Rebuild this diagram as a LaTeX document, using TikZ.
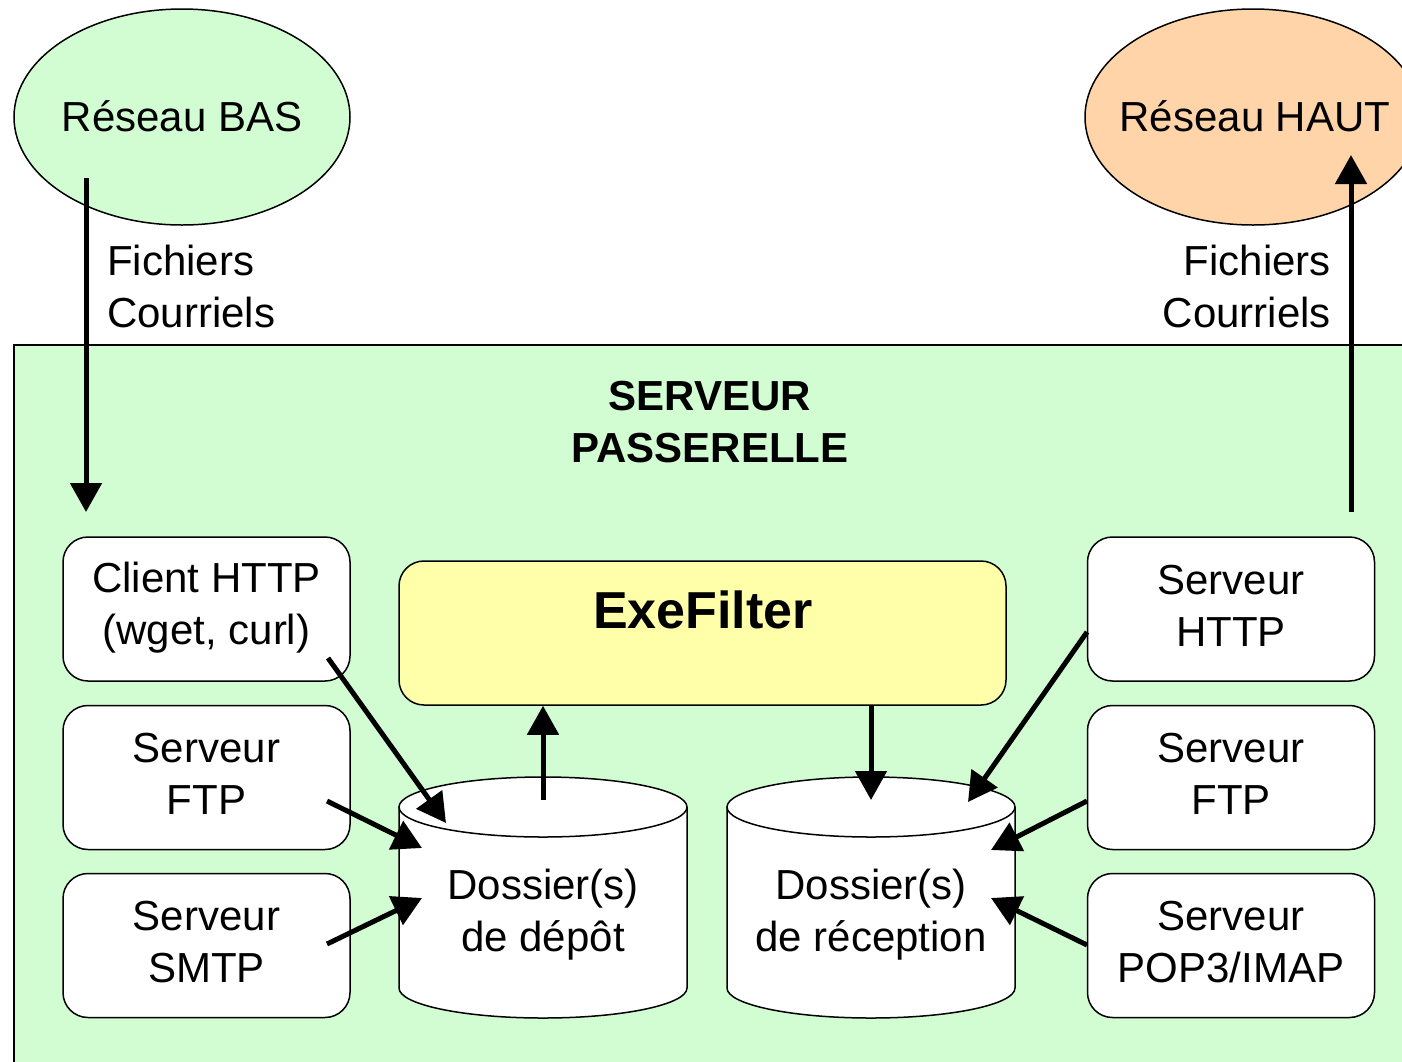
\documentclass[tikz,border=0pt]{standalone}
\usepackage{fontspec}
\setmainfont{Liberation Sans}
\usetikzlibrary{arrows.meta}
\definecolor{lgreen}{RGB}{210,252,210}
\definecolor{peach}{RGB}{255,212,168}
\definecolor{lyellow}{RGB}{255,255,170}
\begin{document}
\begin{tikzpicture}[x=1pt,y=-1pt,
  txt/.style={font=\fontsize{42}{52}\selectfont, align=center, inner sep=0pt},
  btxt/.style={font=\fontsize{42}{52}\selectfont\bfseries, align=center, inner sep=0pt},
  outline/.style={draw=black, line width=1.5pt},
  box/.style={outline, fill=white, rounded corners=25pt, minimum width=287pt, minimum height=144pt, inner sep=0pt},
  arr/.style={line width=5pt, -{Triangle[length=29pt,width=31pt]}}
]
\useasboundingbox (0,0) rectangle (1402,1061);
\fill[white] (0,0) rectangle (1402,1061);

% networks
\draw[outline, fill=lgreen] (182,117) ellipse [x radius=168, y radius=108];
\draw[outline, fill=peach] (1253,117) ellipse [x radius=168, y radius=108];
\node[txt] (bas) at (182,116) {Réseau BAS};
\node[txt] (haut) at (1255,116) {Réseau HAUT};

% server area
\draw[outline, fill=lgreen] (14,345) rectangle (1430,1090);
\node[btxt] (srv) at (710,422) {SERVEUR\\PASSERELLE};

\node[txt, anchor=west, align=left] (fl) at (107,286) {Fichiers\\Courriels};
\node[txt, anchor=east, align=right] (fr) at (1331,286) {Fichiers\\Courriels};

% left boxes
\node[box] (chttp) at (206.5,609) {};
\node[txt] at ([yshift=1pt]chttp.center) {Client HTTP\\(wget, curl)};
\node[box] (lftp) at (206.5,777.5) {};
\node[txt] at ([yshift=4pt]lftp.center) {Serveur\\FTP};
\node[box] (smtp) at (206.5,945.5) {};
\node[txt] at ([yshift=3pt]smtp.center) {Serveur\\SMTP};

% right boxes
\node[box] (shttp) at (1231,609) {};
\node[txt] at ([yshift=3pt]shttp.center) {Serveur\\HTTP};
\node[box] (rftp) at (1231,777.5) {};
\node[txt] at ([yshift=4pt]rftp.center) {Serveur\\FTP};
\node[box] (pop) at (1231,945.5) {};
\node[txt] at ([yshift=3pt]pop.center) {Serveur\\POP3/IMAP};

% ExeFilter
\node[outline, fill=lyellow, rounded corners=25pt, minimum width=607pt, minimum height=144pt, inner sep=0pt] (exe) at (702.5,633) {};
\node[font=\fontsize{52}{60}\selectfont\bfseries, inner sep=0pt] (exet) at (703,610) {ExeFilter};

% cylinders
\path[outline, fill=white] (399,807) -- (399,988) arc[start angle=180, end angle=0, x radius=144, y radius=30] -- (687,807);
\draw[outline, fill=white] (543,807) ellipse [x radius=144, y radius=30];
\path[outline, fill=white] (727,807) -- (727,988) arc[start angle=180, end angle=0, x radius=144, y radius=30] -- (1015,807);
\draw[outline, fill=white] (871,807) ellipse [x radius=144, y radius=30];
\node[txt] (depot) at (543,915) {Dossier(s)\\de dépôt};
\node[txt] (recep) at (871,915) {Dossier(s)\\de réception};

% connector ends
\coordinate (basout) at (86,178);
\coordinate (srvin) at (86,512);
\coordinate (srvout) at (1351,512);
\coordinate (hautin) at (1351,155);
\coordinate (c1) at (328,658);
\coordinate (d1) at (446,823);
\coordinate (c2) at (327,801);
\coordinate (d2) at (422,848);
\coordinate (c3) at (327,944);
\coordinate (d3) at (422,898);
\coordinate (dup) at (543,800);
\coordinate (rdown) at (871,800);
\coordinate (c4) at (1087,632);
\coordinate (r4) at (968,802);
\coordinate (c5) at (1087,801);
\coordinate (r5) at (991,850);
\coordinate (c6) at (1087,945);
\coordinate (r6) at (991,898);

\draw[arr] (basout) -- (srvin);
\draw[arr] (srvout) -- (hautin);
\draw[arr] (c1) -- (d1);
\draw[arr] (c2) -- (d2);
\draw[arr] (c3) -- (d3);
\draw[arr] (dup) -- (dup |- exe.south);
\draw[arr] (rdown |- exe.south) -- (rdown);
\draw[arr] (c4) -- (r4);
\draw[arr] (c5) -- (r5);
\draw[arr] (c6) -- (r6);
\end{tikzpicture}
\end{document}
